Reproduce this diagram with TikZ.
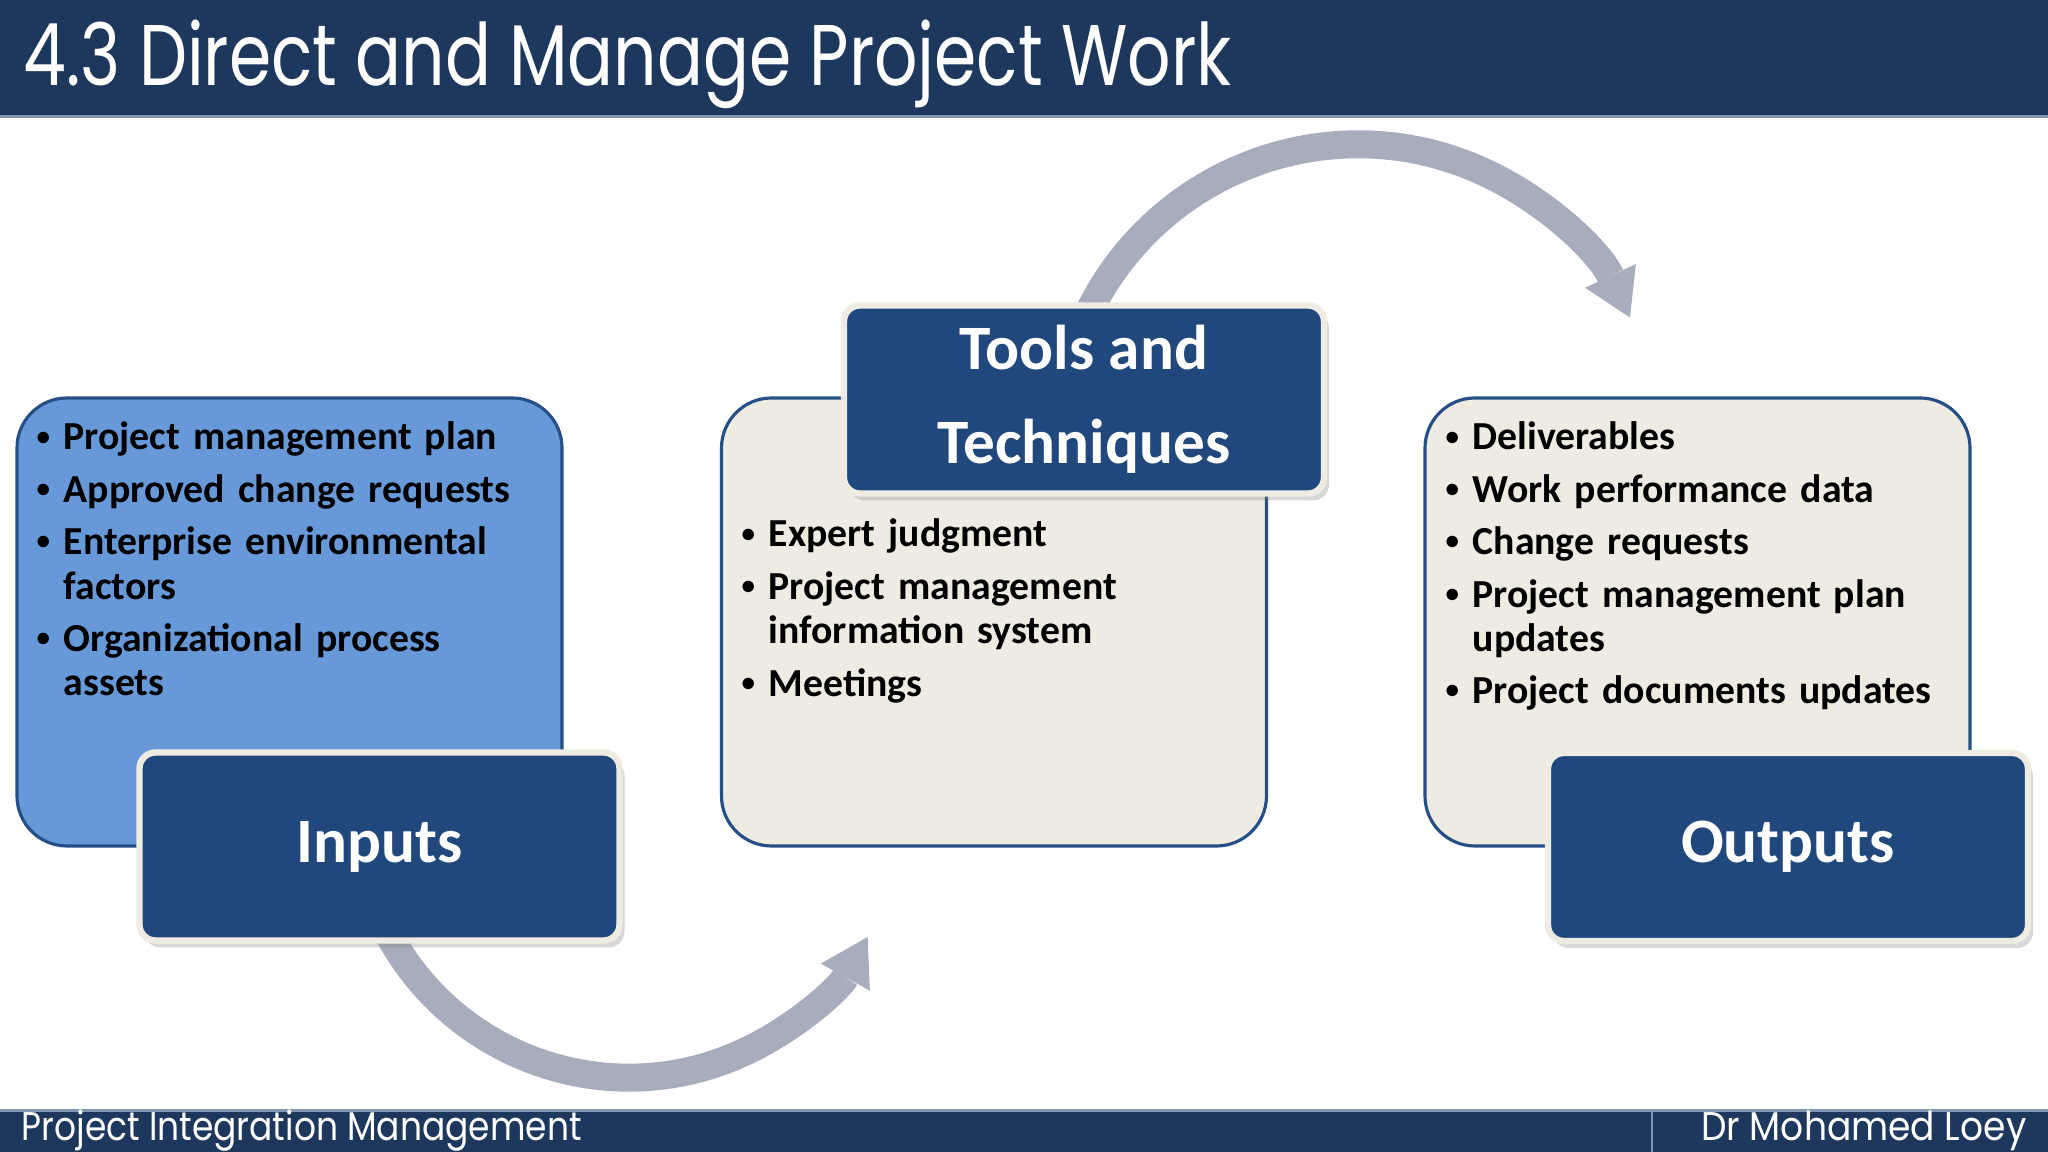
\documentclass[tikz,border=0pt]{standalone}
\usepackage{fontspec}
\setmainfont{Carlito}
\newfontfamily\headfont{Poppins}
\usetikzlibrary{arrows.meta,shadows,backgrounds}

\definecolor{barblue}{RGB}{30,55,93}
\definecolor{labelblue}{RGB}{33,72,124}
\definecolor{edgeblue}{RGB}{38,79,135}
\definecolor{inputfill}{RGB}{103,153,216}
\definecolor{paper}{RGB}{238,236,226}
\definecolor{arcgrey}{RGB}{168,173,189}
\definecolor{rimgrey}{RGB}{130,150,180}

\newcommand{\blt}{\makebox[2.1mm][l]{\hspace*{-0.6mm}\raisebox{1.4pt}{\scalebox{0.68}{\textbullet}}}}
\newcommand{\ind}{\hspace*{2.1mm}}

\tikzset{
  listbox/.style={draw=edgeblue, line width=0.9pt, rounded corners=5mm,
    minimum width=5.45cm, minimum height=4.48cm, inner sep=0pt},
  labelbox/.style={fill=labelblue, draw=paper, line width=1.8pt, rounded corners=1.6mm,
    minimum width=4.8cm, minimum height=1.88cm, text=white, align=center,
    font=\bfseries\fontsize{18pt}{26.7pt}\selectfont,
    drop shadow={shadow xshift=0.5mm, shadow yshift=-0.7mm, opacity=0.3}},
  listtext/.style={anchor=base west, inner sep=0pt, text width=5.1cm, align=left,
    font=\bfseries\fontsize{11.3pt}{12.6pt}\selectfont},
  footer/.style={inner sep=0pt, text=white, font=\headfont\fontsize{11.4pt}{13pt}\selectfont},
  flowarrow/.style={draw=arcgrey, line width=2.8mm,
    -{Triangle[width=5.6mm, length=4.6mm, line width=0pt]}},
}

\begin{document}
\begin{tikzpicture}
\useasboundingbox (0,0) rectangle (20.48,11.52);

% Title and footer bars
\fill[barblue] (0,10.37) rectangle (20.48,11.52);
\fill[rimgrey] (0,10.34) rectangle (20.48,10.37);
\node[anchor=base west, inner sep=0pt, text=white, font=\headfont\fontsize{24.5pt}{28pt}\selectfont] (title) at (0.23,10.66) {\scalebox{0.79}[1]{4.3 Direct and Manage Project Work}};
\fill[barblue] (0,0) rectangle (20.48,0.40);
\fill[rimgrey] (0,0.40) rectangle (20.48,0.43);
\draw[rimgrey, line width=0.6pt] (16.52,0) -- (16.52,0.40);
\node[footer, anchor=base west] (course) at (0.21,0.11) {\scalebox{0.86}[1]{Project Integration Management}};
\node[footer, anchor=base east] (lecturer) at (20.27,0.11) {\scalebox{0.9}[1]{Dr Mohamed Loey}};

% List boxes
\node[listbox, fill=inputfill] (inbox) at (2.895,5.30) {};
\node[listbox, fill=paper] (toolbox) at (9.94,5.30) {};
\node[listbox, fill=paper] (outbox) at (16.975,5.30) {};

\node[listtext] (inlist) at (0.42,7.02) {\blt Project management plan\\[2.3pt]
  \blt Approved change requests\\[2.3pt]
  \blt Enterprise environmental\\
  \ind factors\\[2.3pt]
  \blt Organizational process\\
  \ind assets};
\node[listtext] (toollist) at (7.47,6.05) {\blt Expert judgment\\[2.3pt]
  \blt Project management\\
  \ind information system\\[2.3pt]
  \blt Meetings};
\node[listtext] (outlist) at (14.51,7.02) {\blt Deliverables\\[2.3pt]
  \blt Work performance data\\[2.3pt]
  \blt Change requests\\[2.3pt]
  \blt Project management plan\\
  \ind updates\\[2.3pt]
  \blt Project documents updates};

% Label boxes
\node[labelbox] (inputs) at (3.795,3.055) {Inputs};
\node[labelbox] (tools) at (10.84,7.525) {Tools and\\Techniques};
\node[labelbox] (outputs) at (17.88,3.05) {Outputs};

% Curved arrows, behind the boxes
\begin{scope}[on background layer]
\fill[white] (0,0) rectangle (20.48,11.52);
\draw[flowarrow] ([yshift=-2mm]tools.north) arc[start angle=156, end angle=25, radius=3cm];
\draw[flowarrow] ([yshift=2.8mm]inputs.south) arc[start angle=204, end angle=331, radius=2.73cm];
\end{scope}
\end{tikzpicture}
\end{document}
